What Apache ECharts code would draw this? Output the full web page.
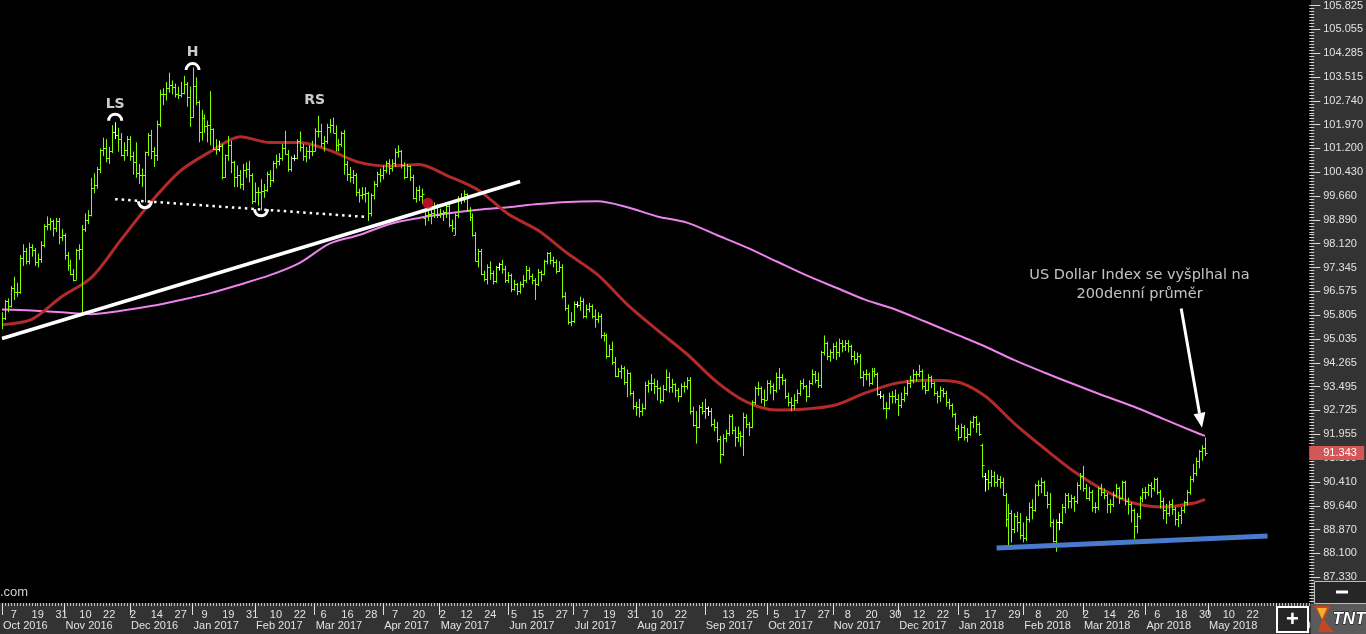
<!DOCTYPE html>
<html><head><meta charset="utf-8">
<script src="https://cdn.jsdelivr.net/npm/echarts@6/dist/echarts.min.js"></script>
<style>
html,body{margin:0;padding:0;background:#000;overflow:hidden;}
#rp{position:absolute;left:1311px;top:0;width:55px;height:634px;background:#333;}
#bp{position:absolute;left:0;top:603px;width:1311px;height:31px;background:#333;}
#c{position:absolute;left:0;top:0;width:1366px;height:634px;}
</style></head><body>
<div id="rp"></div><div id="bp"></div><div id="c"></div>
<script>
// ---------- calendar ----------
const START_DATE = [2016, 9, 3];
const HOLIDAYS = ['2016-12-26','2017-01-02','2017-04-14','2017-12-25','2018-01-01','2018-03-30'];
const WHITE_BAR_DATES = ['2016-11-24','2017-01-16','2017-02-20','2017-05-29','2017-07-04','2017-09-04','2017-11-23','2018-01-15','2018-02-19'];
const N_CATS = 440;
const MONTHS = ['Jan','Feb','Mar','Apr','May','Jun','Jul','Aug','Sep','Oct','Nov','Dec'];

// ---------- price axis tick labels ----------
const tickLabels = [105.825,105.055,104.285,103.515,102.740,101.970,101.200,100.430,99.660,98.890,98.120,97.345,96.575,95.805,95.035,94.265,93.495,92.725,91.955,91.185,90.410,89.640,88.870,88.100,87.330];
const Y_MIN = 86.494, Y_MAX = 105.881;

// ---------- OHLC [open, high, low, close], one array per month ----------
const oct16 = [
[95.50,95.90,95.35,95.72],[95.72,96.30,95.65,96.26],[96.26,96.35,95.90,96.09],[96.09,96.75,96.05,96.69],[96.69,97.05,96.30,96.54],
[96.54,96.85,96.40,96.57],[96.57,97.75,96.50,97.64],[97.64,98.10,97.40,97.88],[97.88,97.98,97.45,97.55],[97.55,98.15,97.45,98.02],
[98.02,98.10,97.70,97.92],[97.92,97.98,97.40,97.52],[97.52,97.80,97.35,97.63],[97.63,98.20,97.50,98.08],[98.08,98.75,98.00,98.69],
[98.69,99.00,98.55,98.74],[98.74,98.95,98.55,98.86],[98.86,98.90,98.35,98.63],[98.63,98.95,98.50,98.86],[98.86,98.95,98.10,98.35],
[98.35,98.60,98.20,98.39]];
const nov16 = [
[98.39,98.45,97.60,97.75],[97.75,97.85,97.25,97.42],[97.42,97.60,97.10,97.15],[97.15,97.30,96.90,96.95],
[96.95,97.95,96.95,97.91],[97.91,98.10,97.60,97.94],[97.94,98.72,95.88,98.60],[98.60,99.10,98.50,98.87],[98.87,99.20,98.75,99.04],
[99.04,100.25,99.00,99.93],[99.93,100.40,99.75,100.03],[100.03,100.60,99.90,100.55],[100.55,101.20,100.40,101.16],[101.16,101.55,100.95,101.20],
[101.20,101.50,100.75,100.90],[100.90,101.25,100.70,101.13],[101.13,101.95,101.05,101.72],[101.72,102.05,101.50,101.62],[101.62,101.87,101.10,101.49],
[101.49,101.70,100.95,100.98],[100.98,101.40,100.80,101.15],[101.15,101.60,100.95,101.50]];
const dec16 = [
[101.50,101.60,100.80,100.94],[100.94,101.10,100.35,100.75],
[100.75,101.40,100.25,100.42],[100.42,100.70,100.05,100.33],[100.33,100.55,99.95,100.35],[100.35,101.10,99.45,101.07],[101.07,101.70,100.95,101.63],
[101.63,101.80,100.85,101.13],[101.13,101.25,100.60,100.98],[100.98,102.10,100.80,101.98],[101.98,103.10,101.90,102.95],[102.95,103.15,102.60,102.96],
[102.96,103.35,102.75,103.17],[103.17,103.65,103.00,103.26],[103.26,103.40,102.95,103.19],[103.19,103.30,102.85,102.96],[102.96,103.20,102.80,102.94],
[102.94,103.35,102.85,103.00],[103.00,103.55,102.95,103.29],[103.29,103.35,102.55,102.86],[102.86,103.20,101.90,102.21]];
const jan17 = [
[102.21,103.82,102.20,103.21],[103.21,103.50,102.60,102.71],[102.71,102.75,101.40,101.72],[101.72,102.45,101.45,102.20],
[102.20,102.30,101.70,101.93],[101.93,102.10,101.40,101.96],[101.96,103.05,101.30,101.82],[101.82,101.85,101.15,101.19],[101.19,101.50,101.00,101.17],
[101.17,101.45,101.10,101.28],[101.28,101.35,100.20,100.28],[100.28,101.00,100.25,101.00],[101.00,101.60,100.80,101.30],[101.30,101.45,100.40,100.76],
[100.76,100.80,99.95,100.27],[100.27,100.65,99.95,100.35],[100.35,100.50,99.90,100.05],[100.05,100.70,99.85,100.51],[100.51,100.75,100.25,100.52],
[100.52,100.80,100.10,100.33],[100.33,100.40,99.40,99.51]];
const feb17 = [
[99.51,100.10,99.45,99.79],[99.79,99.95,99.35,99.78],[99.78,100.20,99.20,99.82],
[99.82,100.05,99.60,99.87],[99.87,100.45,99.80,100.37],[100.37,100.50,99.95,100.17],[100.17,100.80,100.10,100.74],[100.74,101.00,100.55,100.80],
[100.80,101.05,100.65,100.89],[100.89,101.35,100.80,101.20],[101.20,101.77,101.00,101.02],[101.02,101.15,100.45,100.55],[100.55,100.95,100.45,100.88],
[100.88,101.00,100.80,100.89],[100.89,101.50,100.85,101.44],[101.44,101.75,101.10,101.26],[101.26,101.35,100.80,100.95],[100.95,101.25,100.75,101.12],
[101.12,101.30,100.85,101.13],[101.13,101.45,100.95,101.13]];
const mar17 = [
[101.13,101.85,101.10,101.78],[101.78,102.26,101.55,101.77],[101.77,102.00,101.25,101.37],
[101.37,101.60,101.10,101.45],[101.45,102.00,101.35,101.90],[101.90,102.15,101.70,101.95],[101.95,102.20,101.70,101.71],[101.71,101.95,101.10,101.30],
[101.30,101.50,101.10,101.35],[101.35,101.75,101.25,101.70],[101.70,101.80,100.35,100.70],[100.70,100.80,100.15,100.37],[100.37,100.60,100.10,100.29],
[100.29,100.50,100.05,100.33],[100.33,100.40,99.65,99.78],[99.78,99.90,99.45,99.69],[99.69,99.95,99.55,99.74],[99.74,99.95,99.45,99.77],
[99.77,99.80,98.85,99.10],[99.10,99.75,99.00,99.70],[99.70,100.15,99.55,100.04],[100.04,100.45,99.95,100.36],[100.36,100.55,100.10,100.35]];
const apr17 = [
[100.35,100.65,100.20,100.50],[100.50,100.80,100.40,100.74],[100.74,100.85,100.35,100.56],[100.56,100.85,100.45,100.72],[100.72,101.20,100.60,101.08],
[101.08,101.30,100.90,101.12],[101.12,101.15,100.55,100.67],[100.67,100.75,100.20,100.28],[100.28,100.70,100.25,100.62],
[100.62,100.65,100.15,100.29],[100.29,100.35,99.55,99.60],[99.60,99.95,99.45,99.84],[99.84,100.00,99.50,99.67],[99.67,99.90,99.40,99.74],
[98.95,99.25,98.70,99.04],[99.04,99.25,98.85,99.08],[99.08,99.30,98.75,99.10],[99.10,99.45,98.95,99.30],[99.30,99.40,98.95,99.06]];
const may17 = [
[99.06,99.25,98.95,99.10],[99.10,99.20,98.85,99.15],[99.15,99.40,98.95,99.35],[99.35,99.45,98.65,98.71],[98.71,98.90,98.50,98.63],
[98.40,99.10,98.40,99.04],[99.04,99.65,98.95,99.60],[99.60,99.75,99.40,99.64],[99.64,99.85,99.45,99.72],[99.72,99.75,99.15,99.21],
[99.21,99.30,98.85,98.99],[98.99,99.10,98.35,98.39],[98.39,98.50,97.55,97.57],[97.57,97.95,97.35,97.88],[97.88,97.95,97.10,97.13],
[97.13,97.25,96.90,96.99],[96.99,97.45,96.80,97.37],[97.37,97.55,96.95,97.16],[97.16,97.25,96.80,96.90],[96.90,97.40,96.85,97.38],
[97.38,97.50,97.25,97.45],[97.45,97.60,97.15,97.30],[97.30,97.40,96.85,96.94]];
const jun17 = [
[96.94,97.20,96.85,97.10],[97.10,97.15,96.55,96.65],
[96.65,96.95,96.60,96.82],[96.82,96.85,96.45,96.60],[96.60,96.90,96.50,96.80],[96.80,97.10,96.70,96.96],[96.96,97.40,96.85,97.28],
[97.28,97.35,96.95,97.07],[97.07,97.15,96.80,96.96],[96.96,97.00,96.30,96.80],[96.80,97.30,96.75,97.20],[97.20,97.25,96.90,97.15],
[97.15,97.60,97.10,97.56],[97.56,97.85,97.45,97.82],[97.82,97.85,97.45,97.60],[97.60,97.70,97.35,97.52],[97.52,97.60,97.15,97.24],
[97.24,97.55,97.20,97.37],[97.37,97.45,96.35,96.43],[96.43,96.55,95.95,96.05],[96.05,96.15,95.50,95.60],[95.60,95.90,95.45,95.63]];
const jul17 = [
[95.63,96.25,95.55,96.16],[96.16,96.25,96.05,96.12],[96.12,96.40,95.95,96.25],[96.25,96.35,95.70,95.79],[95.79,96.15,95.70,96.01],
[96.01,96.20,95.90,96.09],[96.09,96.15,95.70,95.77],[95.77,96.00,95.40,95.67],[95.67,95.90,95.55,95.79],[95.79,95.85,95.05,95.15],
[95.15,95.25,94.95,95.17],[95.17,95.20,94.40,94.50],[94.50,94.85,94.45,94.72],[94.72,94.95,94.20,94.30],[94.30,94.45,93.80,93.85],
[93.85,94.10,93.80,94.01],[94.01,94.20,93.75,94.09],[94.09,94.15,93.55,93.63],[93.63,94.05,93.15,93.92],[93.92,93.95,93.20,93.29],
[93.29,93.35,92.75,92.86]];
const aug17 = [
[92.86,93.00,92.55,92.85],[92.85,93.10,92.50,92.70],[92.70,92.95,92.55,92.80],[92.80,93.65,92.75,93.55],
[93.55,93.70,93.30,93.60],[93.60,93.90,93.35,93.60],[93.60,93.75,93.25,93.50],[93.50,93.70,93.05,93.45],[93.45,93.50,92.95,93.07],
[93.07,93.55,93.00,93.43],[93.43,94.05,93.35,93.80],[93.80,93.95,93.30,93.48],[93.48,93.75,93.30,93.58],[93.58,93.60,93.15,93.40],
[93.40,93.45,93.00,93.20],[93.20,93.60,93.15,93.53],[93.53,93.65,93.30,93.50],[93.50,93.80,93.40,93.70],[93.70,93.80,92.60,92.70],
[92.70,92.85,92.20,92.26],[92.26,92.70,91.65,92.20],[92.20,92.90,92.15,92.84],[92.84,93.00,92.60,92.70]];
const sep17 = [
[92.70,93.10,92.45,92.80],
[92.80,92.85,92.55,92.70],[92.70,92.80,92.20,92.30],[92.30,92.45,92.05,92.20],[92.20,92.35,91.70,91.80],[91.80,91.90,91.01,91.30],
[91.30,91.95,91.25,91.84],[91.84,92.10,91.70,92.00],[92.00,92.60,91.90,92.55],[92.55,92.60,91.95,92.10],[92.10,92.20,91.55,91.85],
[91.85,92.20,91.70,92.00],[92.00,92.05,91.55,91.90],[91.90,92.65,91.25,92.50],[92.50,92.60,92.15,92.30],[92.30,92.35,91.90,92.20],
[92.20,93.05,92.15,93.00],[93.00,93.50,92.90,93.45],[93.45,93.65,93.20,93.45],[93.45,93.50,92.95,93.10],[93.10,93.40,92.85,93.07]];
const oct17 = [
[93.07,93.70,93.05,93.60],[93.60,93.70,93.25,93.50],[93.50,93.60,93.05,93.40],[93.40,93.95,93.30,93.80],[93.80,94.10,93.40,93.80],
[93.80,93.90,93.55,93.70],[93.70,93.75,93.10,93.20],[93.20,93.30,92.85,93.00],[93.00,93.15,92.70,92.90],[92.90,93.25,92.75,93.05],
[93.05,93.40,92.95,93.30],[93.30,93.70,93.20,93.60],[93.60,93.75,93.40,93.50],[93.50,93.55,93.00,93.20],[93.20,93.70,93.15,93.60],
[93.60,94.05,93.55,93.90],[93.90,94.00,93.60,93.70],[93.70,93.95,93.45,93.55],[93.55,94.65,93.45,94.60],[94.60,95.15,94.50,94.90],
[94.90,94.95,94.35,94.50],[94.50,94.70,94.30,94.60]];
const nov17 = [
[94.60,94.90,94.40,94.80],[94.80,94.95,94.35,94.60],[94.60,95.05,94.45,94.90],
[94.90,95.00,94.60,94.80],[94.80,95.00,94.65,94.90],[94.90,95.00,94.60,94.80],[94.80,94.85,94.35,94.50],[94.50,94.65,94.20,94.40],
[94.40,94.60,94.25,94.50],[94.50,94.55,93.75,93.80],[93.80,94.00,93.50,93.90],[93.90,94.05,93.70,93.90],[93.90,93.95,93.50,93.60],
[93.60,94.10,93.55,94.00],[94.00,94.10,93.80,93.90],[93.90,93.95,93.20,93.25],[93.25,93.35,93.10,93.20],[93.20,93.25,92.75,92.80],
[92.80,93.00,92.45,92.80],[92.80,93.30,92.75,93.20],[93.20,93.35,92.95,93.20],[93.20,93.40,92.95,93.10]];
const dec17 = [
[93.10,93.25,92.55,92.90],
[92.90,93.30,92.80,93.10],[93.10,93.50,93.00,93.30],[93.30,93.70,93.20,93.60],[93.60,93.85,93.45,93.70],[93.70,94.05,93.60,93.90],
[93.90,94.00,93.65,93.90],[93.90,94.20,93.80,94.00],[94.00,94.05,93.40,93.50],[93.50,93.65,93.25,93.40],[93.40,93.90,93.35,93.80],
[93.80,93.85,93.45,93.60],[93.60,93.65,93.20,93.30],[93.30,93.35,92.95,93.20],[93.20,93.50,93.00,93.40],[93.40,93.45,93.15,93.30],
[93.30,93.35,92.85,93.00],[93.00,93.10,92.75,92.90],[92.90,92.95,92.50,92.60],[92.60,92.65,92.05,92.15]];
const jan18 = [
[92.15,92.25,91.75,91.87],[91.87,92.30,91.85,92.20],[92.20,92.25,91.75,91.85],[91.85,92.15,91.70,91.96],
[91.96,92.40,91.90,92.35],[92.35,92.55,92.15,92.50],[92.50,92.55,92.00,92.30],[92.30,92.35,91.90,91.97],[91.60,91.65,90.55,90.96],
[90.60,90.70,90.10,90.50],[90.50,90.80,90.15,90.40],[90.40,90.80,90.25,90.60],[90.60,90.75,90.25,90.40],[90.40,90.65,90.25,90.50],
[90.50,90.60,90.20,90.40],[90.40,90.55,89.95,90.00],[90.00,90.05,88.95,89.20],[89.20,89.70,88.30,89.40],[89.40,89.50,88.45,88.90],
[88.90,89.40,88.75,89.30],[89.30,89.45,88.80,89.10],[89.10,89.40,88.55,88.70]];
const feb18 = [
[88.70,89.10,88.45,88.60],[88.60,89.30,88.50,89.20],
[89.20,89.75,89.10,89.60],[89.60,89.85,89.20,89.50],[89.50,90.35,89.45,90.30],[90.30,90.46,89.95,90.30],[90.30,90.55,90.05,90.40],
[90.40,90.45,89.95,90.00],[90.00,90.10,89.55,89.70],[89.70,90.05,88.95,89.10],[89.10,89.20,88.45,88.50],[88.50,89.20,88.15,89.10],
[89.10,89.40,88.85,89.10],[89.10,89.70,89.05,89.60],[89.60,90.05,89.40,90.00],[90.00,90.05,89.55,89.80],[89.80,90.00,89.55,89.90],
[89.90,89.95,89.45,89.80],[89.80,90.40,89.70,90.30],[90.30,90.70,90.15,90.60]];
const mar18 = [
[90.60,90.93,90.10,90.20],[90.20,90.35,89.85,89.90],
[89.90,90.25,89.80,90.10],[90.10,90.15,89.45,89.60],[89.60,89.75,89.40,89.60],[89.60,90.25,89.50,90.20],[90.20,90.35,89.95,90.10],
[90.10,90.20,89.85,90.00],[90.00,90.05,89.40,89.70],[89.70,89.85,89.40,89.70],[89.70,90.10,89.60,90.00],[90.00,90.35,89.90,90.20],
[90.20,90.25,89.70,89.90],[89.90,90.45,89.85,90.40],[90.40,90.45,89.65,89.80],[89.80,89.90,89.35,89.70],[89.70,89.75,89.10,89.50],
[89.50,89.55,88.55,89.00],[89.00,89.40,88.75,89.30],[89.30,89.95,89.20,89.90],[89.90,90.20,89.75,90.10]];
const apr18 = [
[90.10,90.25,89.85,90.10],[90.10,90.35,89.95,90.30],[90.30,90.40,89.90,90.20],[90.20,90.55,90.10,90.50],[90.50,90.55,90.00,90.10],
[90.10,90.15,89.55,89.80],[89.80,89.90,89.20,89.50],[89.50,89.70,89.05,89.40],[89.40,89.80,89.30,89.70],[89.70,89.85,89.35,89.55],
[89.55,89.60,89.00,89.20],[89.20,89.45,88.95,89.35],[89.35,89.60,89.05,89.50],[89.50,89.80,89.40,89.75],[89.75,90.15,89.65,90.10],
[90.10,90.60,90.00,90.50],[90.50,91.00,90.40,90.70],[90.70,91.20,90.60,91.10],[91.10,91.45,90.85,91.40],[91.40,91.60,91.10,91.50],
[91.50,91.85,91.25,91.343]];

// ---------- moving averages, sampled every 10 bars ----------
const maIdx  = [0,10,20,30,40,50,60,70,80,90,100,110,120,130,140,150,160,170,180,190,200,210,220,230,240,250,260,270,280,290,300,310,320,330,340,350,360,370,380,390,400,404];
const ma50  = [95.50,95.67,96.40,97.02,98.25,99.46,100.48,101.10,101.58,101.39,101.39,101.14,100.75,100.63,100.68,100.30,99.85,99.08,98.55,97.80,97.12,96.15,95.33,94.55,93.65,93.00,92.74,92.77,92.90,93.29,93.60,93.70,93.66,93.20,92.30,91.50,90.75,90.15,89.73,89.60,89.72,89.85];
const ma200 = [95.99,95.96,95.90,95.84,95.95,96.10,96.30,96.52,96.80,97.10,97.50,98.12,98.40,98.75,98.95,99.10,99.22,99.30,99.40,99.47,99.49,99.30,99.00,98.80,98.40,98.00,97.55,97.10,96.70,96.30,95.99,95.60,95.20,94.80,94.35,93.95,93.57,93.20,92.85,92.45,92.05,91.90];

// ---------- drawn annotations (bar index, price) ----------
const trendLine   = [[0,95.05],[174,100.13]];
const neckLine    = [[37.8,99.56],[123.1,98.98]];
const supportLine = [[333.8,88.27],[424.7,88.66]];
const arrowLine   = [[395.7,96.02],[403.2,92.16]];
const breakDot    = [[142.8,99.43]];
const caps        = [[38.3,102.10,'top'],[64.2,103.735,'top'],[48.3,99.49,'bottom'],[87,99.23,'bottom']];
const patternText = [[38.1,102.64,'LS'],[63.9,104.31,'H'],[105.4,102.74,'RS']];
const noteText    = [[381.9,96.79,'US Dollar Index se vyšplhal na\n200denní průměr']];
const lastPrice   = 91.343;

// ---------- build ----------
const dates = (function(){
  const hol = new Set(HOLIDAYS), out = [];
  let t = Date.UTC(START_DATE[0], START_DATE[1], START_DATE[2]);
  while (out.length < N_CATS) {
    const d = new Date(t), wd = d.getUTCDay(), s = d.toISOString().slice(0,10);
    if (wd !== 0 && wd !== 6 && !hol.has(s)) out.push(s);
    t += 86400000;
  }
  return out;
})();
const monthStart = new Set();
dates.forEach((d,i)=>{ if (i===0 || d.slice(5,7)!==dates[i-1].slice(5,7)) monthStart.add(i); });
const dayLabel = new Set();
for (let i=4;i<N_CATS;i+=8) if (!monthStart.has(i)) dayLabel.add(i);

const ohlc = [].concat(oct16,nov16,dec16,jan17,feb17,mar17,apr17,may17,jun17,jul17,aug17,sep17,oct17,nov17,dec17,jan18,feb18,mar18,apr18);
const whiteSet = new Set(WHITE_BAR_DATES);
const barData = ohlc.map((b,i)=>[i,b[0],b[1],b[2],b[3], whiteSet.has(dates[i])?1:0]);
const lastIdx = ohlc.length-1;

// minor ruler ticks on price axis
const minorTicks = [];
for (let k=0;k<tickLabels.length-1;k++){
  const a=tickLabels[k], b=tickLabels[k+1];
  for (let j=1;j<8;j++) minorTicks.push(b+(a-b)*j/8);
}
{ const st=0.77/8; for (let v=tickLabels[0]+st; v<Y_MAX; v+=st) minorTicks.push(v);
  for (let v=tickLabels[tickLabels.length-1]-st; v>Y_MIN; v-=st) minorTicks.push(v); }

const chart = echarts.init(document.getElementById('c'), null, {renderer:'canvas'});
const LBL = '#e2e2e2';
const option = {
  backgroundColor: 'transparent',
  animation: false,
  grid: {left:0, right:55, top:0, bottom:31, containLabel:false},
  xAxis: [
    {type:'category', data:dates, boundaryGap:false, position:'bottom', offset:0,
     axisLine:{show:false},
     axisTick:{show:true, interval:0, length:3, lineStyle:{color:'#bdbdbd', width:1}},
     axisLabel:{interval:(i)=>dayLabel.has(i), formatter:(v)=>String(parseInt(v.slice(8),10)),
       color:LBL, fontSize:11, fontFamily:'Liberation Sans, Arial', margin:6},
     splitLine:{show:false}},
    {type:'category', data:dates, boundaryGap:false, position:'bottom', offset:0,
     axisLine:{show:false},
     axisTick:{show:true, interval:(i)=>monthStart.has(i), length:12, lineStyle:{color:'#e0e0e0', width:1}},
     axisLabel:{interval:(i)=>monthStart.has(i), formatter:(v)=>MONTHS[parseInt(v.slice(5,7),10)-1]+' '+v.slice(0,4),
       align:'left', color:LBL, fontSize:11, fontFamily:'Liberation Sans, Arial', margin:17, padding:[0,0,0,1]},
     splitLine:{show:false}}
  ],
  yAxis: [
    {type:'value', position:'right', offset:0, min:Y_MIN, max:Y_MAX, scale:true,
     axisLine:{show:false}, splitLine:{show:false},
     axisTick:{show:true, customValues:tickLabels, length:11, lineStyle:{color:'#d8d8d8'}},
     axisLabel:{customValues:tickLabels, formatter:(v)=>v.toFixed(3), color:LBL, fontSize:11, fontFamily:'Liberation Sans, Arial', margin:14}},
    {type:'value', position:'right', offset:0, min:Y_MIN, max:Y_MAX, scale:true,
     axisLine:{show:false}, splitLine:{show:false}, axisLabel:{show:false},
     axisTick:{show:true, customValues:minorTicks, length:5, lineStyle:{color:'#cfcfcf'}}}
  ],
  series: [
    {type:'line', name:'MA200', data:maIdx.map((x,k)=>[x,ma200[k]]), symbol:'none', smooth:0.3,
     lineStyle:{color:'#ee82ee', width:2}, z:3},
    {type:'line', name:'MA50', data:maIdx.map((x,k)=>[x,ma50[k]]), symbol:'none', smooth:0.3,
     lineStyle:{color:'#b22a2a', width:3}, z:3},
    {type:'custom', name:'OHLC', data:barData, encode:{x:0, y:[1,2,3,4]}, clip:true, z:4,
     renderItem:(params, api)=>{
       const i=api.value(0);
       const o=api.coord([i,api.value(1)]), h=api.coord([i,api.value(2)]),
             l=api.coord([i,api.value(3)]), c=api.coord([i,api.value(4)]);
       const col = api.value(5) ? '#ffffff' : '#80ff00';
       const x = Math.round(h[0])+0.5;
       return {type:'group', children:[
         {type:'line', shape:{x1:x,y1:h[1],x2:x,y2:l[1]}, style:{stroke:col,lineWidth:1}},
         {type:'line', shape:{x1:x-2,y1:Math.round(o[1])+0.5,x2:x,y2:Math.round(o[1])+0.5}, style:{stroke:col,lineWidth:1}},
         {type:'line', shape:{x1:x,y1:Math.round(c[1])+0.5,x2:x+2,y2:Math.round(c[1])+0.5}, style:{stroke:col,lineWidth:1}}
       ]};
     }},
    {type:'line', name:'trend', data:trendLine, symbol:'none', lineStyle:{color:'#ffffff', width:3.5}, z:5},
    {type:'line', name:'neck', data:neckLine, symbol:'none', lineStyle:{color:'#ffffff', width:2.5, type:[2.5,4]}, z:5},
    {type:'line', name:'support', data:supportLine, symbol:'none', lineStyle:{color:'#4a7acb', width:5}, z:5},
    {type:'scatter', name:'break', data:breakDot, symbolSize:11, itemStyle:{color:'#e3122e'}, z:6},
    {type:'custom', name:'caps', data:caps.map(c=>[c[0],c[1],c[2]==='top'?1:0]), clip:false, z:6,
     renderItem:(params, api)=>{
       const p=api.coord([api.value(0),api.value(1)]);
       const top=api.value(2)===1;
       return {type:'arc', shape:{cx:p[0], cy:p[1], r:6.5, startAngle: top?Math.PI:0, endAngle: top?2*Math.PI:Math.PI},
               style:{stroke:'#ffffff', lineWidth:3, fill:null}};
     }},
    {type:'scatter', name:'labels', data:patternText.map(t=>({value:[t[0],t[1]], name:t[2]})), symbolSize:0, z:6,
     label:{show:true, position:'inside', formatter:(p)=>p.name, color:'#ffffff', fontSize:14, fontWeight:'bold', fontFamily:'DejaVu Sans'}},
    {type:'scatter', name:'note', data:noteText.map(t=>({value:[t[0],t[1]], name:t[2]})), symbolSize:0, z:6,
     label:{show:true, position:'inside', formatter:(p)=>p.name, color:'#f2f2f2', fontSize:14.5, lineHeight:19, align:'center', fontFamily:'DejaVu Sans'}},
    {type:'custom', name:'arrow', data:[[arrowLine[0][0],arrowLine[0][1],arrowLine[1][0],arrowLine[1][1]]], clip:false, z:6,
     renderItem:(params, api)=>{
       const a=api.coord([api.value(0),api.value(1)]), b=api.coord([api.value(2),api.value(3)]);
       const dx=b[0]-a[0], dy=b[1]-a[1], L=Math.hypot(dx,dy), ux=dx/L, uy=dy/L;
       const hl=15, hw=6;
       const bx=b[0]-ux*hl, by=b[1]-uy*hl;
       return {type:'group', children:[
         {type:'line', shape:{x1:a[0],y1:a[1],x2:bx,y2:by}, style:{stroke:'#ffffff', lineWidth:3}},
         {type:'polygon', shape:{points:[[b[0],b[1]],[bx-uy*hw,by+ux*hw],[bx+uy*hw,by-ux*hw]]}, style:{fill:'#ffffff'}}
       ]};
     }},
    {type:'custom', name:'lastPrice', data:[[lastIdx,lastPrice]], clip:false, z:20,
     renderItem:(params, api)=>{
       const p=api.coord([api.value(0),api.value(1)]);
       const cs=params.coordSys; const x0=cs.x+cs.width;
       return {type:'group', children:[
         {type:'rect', shape:{x:x0, y:Math.round(p[1])-7, width:55, height:14}, style:{fill:'#d35757'}},
         {type:'text', style:{x:x0+14, y:Math.round(p[1]), text:api.value(1).toFixed(3), fill:'#ffffff', font:'11px Liberation Sans, Arial', verticalAlign:'middle'}}
       ]};
     }}
  ],
  graphic: [
    {type:'text', left:0, top:586, z:50, style:{text:'.com', fill:'#d0d0d0', font:'13px Liberation Sans, Arial'}},
    {type:'rect', z:50, shape:{x:1314.5, y:581.5, width:52, height:22}, style:{fill:'#262626', stroke:'#bbbbbb', lineWidth:1}},
    {type:'rect', z:51, shape:{x:1336, y:590.5, width:12, height:3}, style:{fill:'#ffffff'}},
    {type:'rect', z:50, shape:{x:1277, y:607, width:31, height:25}, style:{fill:'#262626', stroke:'#ffffff', lineWidth:2}},
    {type:'text', z:51, x:1292.5, y:620, style:{text:'+', fill:'#ffffff', font:'bold 22px Liberation Sans, Arial', align:'center', verticalAlign:'middle'}},
    {type:'rect', z:50, shape:{x:1311, y:604, width:55, height:30}, style:{fill:'#5a5a5a'}},
    {type:'polygon', z:51, shape:{points:[[1314,606],[1330,606],[1324,620],[1334,632],[1318,632],[1322,620]]}, style:{fill:'#c8461e'}},
    {type:'polygon', z:52, shape:{points:[[1317,608],[1327,608],[1322,619]]}, style:{fill:'#f0b030'}},
    {type:'text', z:53, x:1349, y:619, style:{text:'TNT', fill:'#ffffff', stroke:'#111', lineWidth:1, font:'italic bold 17px Liberation Sans, Arial', align:'center', verticalAlign:'middle'}}
  ]
};
chart.setOption(option);
</script>
</body></html>
